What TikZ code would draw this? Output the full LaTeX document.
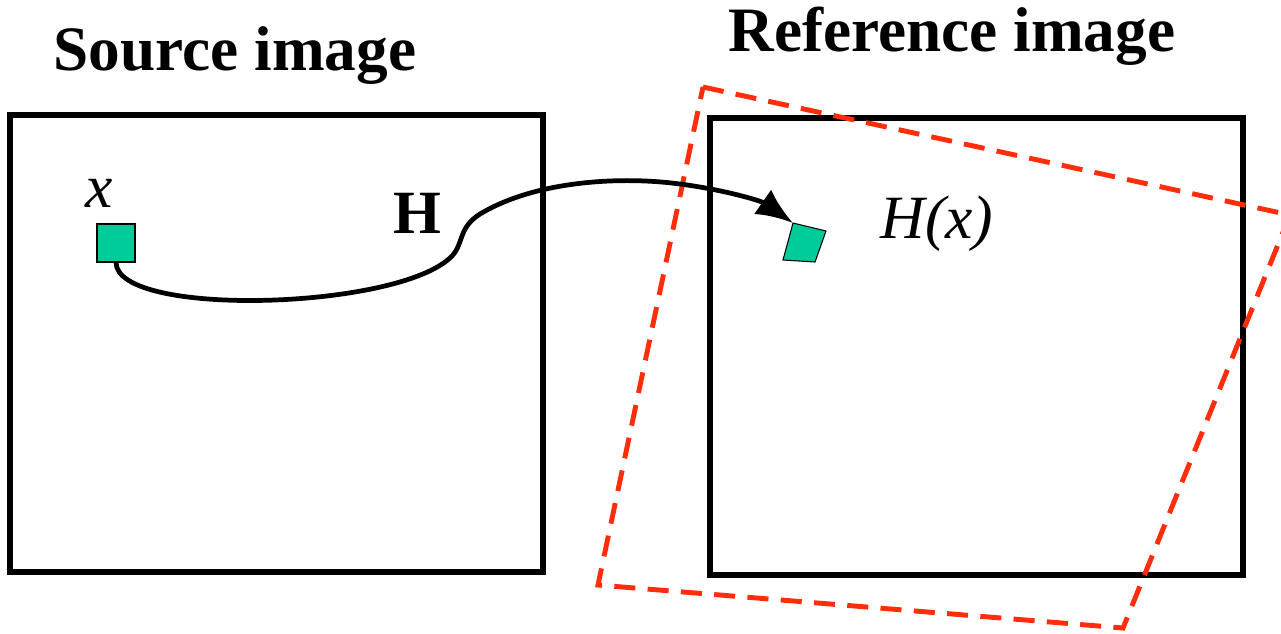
\documentclass[tikz,border=0pt]{standalone}
\usepackage{fontspec}
\setmainfont{Liberation Serif}
\usepackage{tikz}
\usetikzlibrary{arrows.meta}
\definecolor{pixgreen}{RGB}{0,204,153}
\definecolor{warpred}{RGB}{255,45,10}
\tikzset{
  image box/.style={draw,line width=3.4pt,minimum width=10.66cm,minimum height=9.14cm,inner sep=0pt},
  pixel/.style={draw,line width=0.6pt,fill=pixgreen,minimum size=0.76cm,inner sep=0pt},
  title/.style={font=\fontsize{36}{40}\selectfont\bfseries,anchor=base},
  label/.style={font=\fontsize{35}{40}\selectfont,anchor=base},
  warp/.style={draw=warpred,line width=2.8pt,dash pattern=on 12pt off 7pt}
}

\begin{document}
\begin{tikzpicture}[x=0.02cm,y=-0.02cm,->,>={Latex[length=21pt,width=17pt]}]
        \useasboundingbox (0,0) rectangle (1281,633);
        \node [image box] (src) at (276.5,343.5) {};
        \node [image box] (ref) at (976.5,346.5) {};
        \draw [warp,-] (703,87) -- (1290,215) -- (1123,628) -- (598,585) -- cycle;
        \node [title] (srctitle) at (235,70) {Source image};
        \node [title] (reftitle) at (952,51) {Reference image};
        \node [pixel] (srcpix) at (116,243) {};
        \coordinate (hx) at (793,223);
        \draw [-,line width=0.6pt,fill=pixgreen] (hx) -- (826,231) -- (815,262) -- (783,260) -- cycle;
        \node [label] (xlab) at (99,207) {\itshape x};
        \node [label] (hlab) at (417,233) {\bfseries H};
        \node [label] (hxlab) at (937,238) {\itshape H(x)};
        \draw [line width=2.7pt] (srcpix.south) .. controls (117,318) and (400,310) .. (452,256)
              .. controls (464,243) and (458,228) .. (480,214)
              .. controls (530,184) and (600,179) .. (645,181)
              .. controls (700,183) and (760,200) .. (hx);
\end{tikzpicture}
\end{document}
